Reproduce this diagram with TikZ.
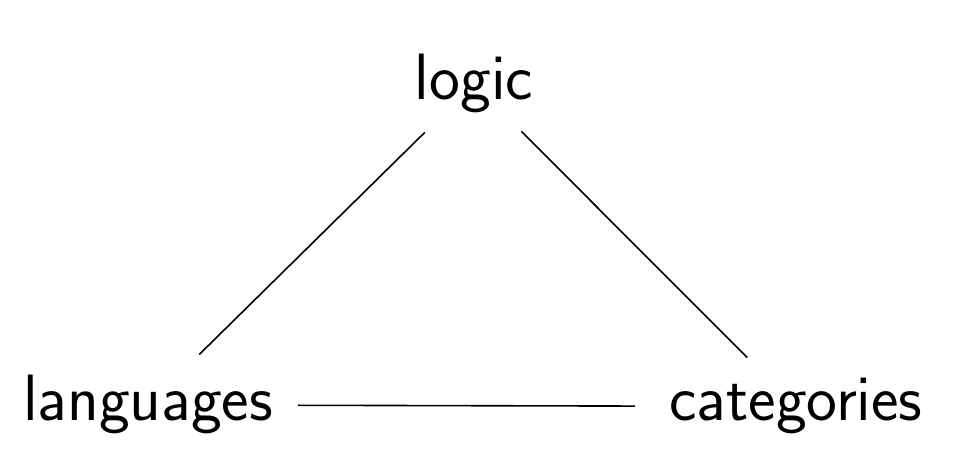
\documentclass[tikz,border=0pt]{standalone}
\begin{document}
\begin{tikzpicture}[x=1pt,y=1pt,
  lbl/.style={inner sep=0pt,anchor=base,font=\fontsize{65.5}{75}\sffamily\selectfont},
  conn/.style={line width=1.6pt}]
\useasboundingbox (0,0) rectangle (976,470);
\node[lbl] (logic) at (474,370) {logic};
\node[lbl] (lang) at (148,49) {languages};
\node[lbl] (cat) at (796,49) {categories};
\draw[conn, shorten <=72pt, shorten >=69pt] (lang.center) -- (logic.center);
\draw[conn, shorten <=67pt, shorten >=69pt] (logic.center) -- (cat.center);
\draw[conn, shorten <=150pt, shorten >=161pt] (lang.center) -- (cat.center);
\end{tikzpicture}
\end{document}
